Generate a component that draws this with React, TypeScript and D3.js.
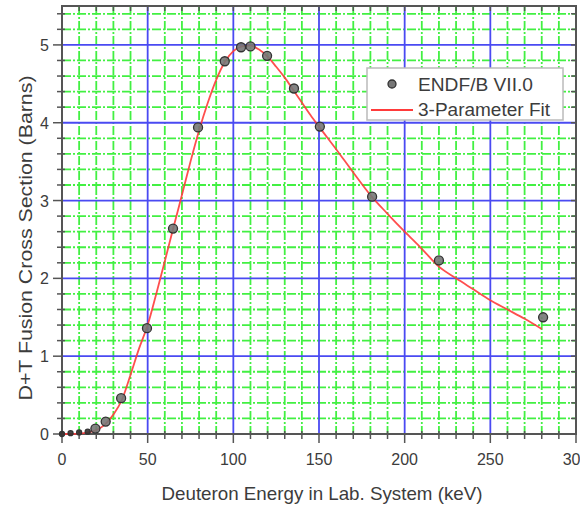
import React, { useEffect, useRef } from 'react';
import { select, scaleLinear, line, range, curveMonotoneX } from 'd3';

// ENDF/B VII.0 evaluated points (keV, barns)
const endfEnergy = [0, 5, 10, 15, 19.5, 25.5, 34.5, 49.6, 64.8, 79.4, 95, 104.5, 110, 119.7, 135.4, 150.5, 181, 220, 280.8];
const endfSigma = [0.0, 0.01, 0.02, 0.03, 0.07, 0.16, 0.46, 1.36, 2.64, 3.94, 4.79, 4.97, 4.98, 4.86, 4.44, 3.95, 3.05, 2.23, 1.5];

// 3-parameter fit curve
const fitEnergy = [0, 5, 10, 15, 20, 25, 30, 35, 40, 45, 50, 55, 60, 65, 70, 75, 80, 85, 90, 95, 100, 105, 110, 115, 120, 125, 130, 135, 140, 145, 150, 160, 170, 180, 190, 200, 210, 220, 230, 240, 250, 260, 270, 280];
const fitSigma = [0, 0, 0.005, 0.02, 0.05, 0.12, 0.25, 0.44, 0.76, 1.1, 1.4, 1.8, 2.22, 2.65, 3.07, 3.5, 3.9, 4.25, 4.55, 4.78, 4.92, 4.98, 4.99, 4.94, 4.85, 4.72, 4.58, 4.42, 4.26, 4.1, 3.95, 3.66, 3.36, 3.07, 2.83, 2.6, 2.38, 2.15, 2.0, 1.86, 1.72, 1.6, 1.48, 1.35];

const xTicks = [0, 50, 100, 150, 200, 250, 300];
const yTicks = [0, 1, 2, 3, 4, 5];

const legendLabels = ['ENDF/B VII.0', '3-Parameter Fit'];

const xTitle = 'Deuteron Energy in Lab. System (keV)';
const yTitle = 'D+T Fusion Cross Section (Barns)';

export default function App() {
  const ref = useRef<SVGSVGElement>(null);

  useEffect(() => {
    const width = 580;
    const height = 505;
    const left = 62, right = 576, top = 6, bottom = 434;
    const font = 'Liberation Sans, Arial, sans-serif';
    const textColor = '#3c3c3c';
    const axisColor = '#555';
    const green = '#22ee22';

    const svg = select(ref.current);
    svg.selectAll('*').remove();
    svg.attr('width', width).attr('height', height);

    svg.append('rect').attr('width', width).attr('height', height).attr('fill', '#fff');

    const x = scaleLinear().domain([0, 300]).range([left, right]);
    const y = scaleLinear().domain([0, 5.5]).range([bottom, top]);

    const xMinor = range(10, 300, 10).filter(v => v % 50 !== 0);
    const yMinor = range(1, 28).map(i => i / 5).filter(v => Math.abs(v - Math.round(v)) > 1e-6);

    // minor grid (green, dash-dot)
    const grid = svg.append('g').attr('opacity', 0.85);
    grid.selectAll('line.mx').data(xMinor).enter().append('line')
      .attr('x1', d => x(d)).attr('x2', d => x(d))
      .attr('y1', top).attr('y2', bottom)
      .attr('stroke', green).attr('stroke-width', 1.8)
      .attr('stroke-dasharray', '9,2,2,2');
    grid.selectAll('line.my').data(yMinor).enter().append('line')
      .attr('y1', d => y(d)).attr('y2', d => y(d))
      .attr('x1', left).attr('x2', right)
      .attr('stroke', green).attr('stroke-width', 1.8)
      .attr('stroke-dasharray', '9,2,2,2');

    // major grid (blue)
    const major = svg.append('g');
    major.selectAll('line.Mx').data(xTicks.filter(v => v > 0 && v < 300)).enter().append('line')
      .attr('x1', d => x(d)).attr('x2', d => x(d))
      .attr('y1', top).attr('y2', bottom)
      .attr('stroke', '#4a4af2').attr('stroke-width', 1.8);
    major.selectAll('line.My').data(yTicks.filter(v => v > 0)).enter().append('line')
      .attr('y1', d => y(d)).attr('y2', d => y(d))
      .attr('x1', left).attr('x2', right)
      .attr('stroke', '#4a4af2').attr('stroke-width', 1.8);

    // frame
    svg.append('rect')
      .attr('x', left).attr('y', top)
      .attr('width', right - left).attr('height', bottom - top)
      .attr('fill', 'none').attr('stroke', axisColor).attr('stroke-width', 2);

    const ticks = svg.append('g').attr('stroke', axisColor).attr('stroke-width', 1.5);
    // bottom axis ticks
    ticks.selectAll('line.bM').data(xTicks).enter().append('line')
      .attr('x1', d => x(d)).attr('x2', d => x(d))
      .attr('y1', bottom).attr('y2', bottom + 9);
    ticks.selectAll('line.bm').data(xMinor).enter().append('line')
      .attr('x1', d => x(d)).attr('x2', d => x(d))
      .attr('y1', bottom - 3).attr('y2', bottom + 5);
    // top ticks
    ticks.selectAll('line.tm').data(xMinor.concat(xTicks)).enter().append('line')
      .attr('x1', d => x(d)).attr('x2', d => x(d))
      .attr('y1', top).attr('y2', top + 5);
    // left axis ticks
    ticks.selectAll('line.lM').data(yTicks).enter().append('line')
      .attr('y1', d => y(d)).attr('y2', d => y(d))
      .attr('x1', left - 9).attr('x2', left);
    ticks.selectAll('line.lm').data(yMinor).enter().append('line')
      .attr('y1', d => y(d)).attr('y2', d => y(d))
      .attr('x1', left - 5).attr('x2', left + 3);
    // right ticks
    ticks.selectAll('line.rm').data(yMinor.concat(yTicks)).enter().append('line')
      .attr('y1', d => y(d)).attr('y2', d => y(d))
      .attr('x1', right - 5).attr('x2', right);

    // tick labels
    svg.append('g').selectAll('text').data(xTicks).enter().append('text')
      .attr('x', d => x(d)).attr('y', bottom + 31)
      .attr('text-anchor', 'middle')
      .attr('font-family', font).attr('font-size', 16).attr('fill', textColor)
      .text(d => d);
    svg.append('g').selectAll('text').data(yTicks).enter().append('text')
      .attr('x', left - 13).attr('y', d => y(d) + 6)
      .attr('text-anchor', 'end')
      .attr('font-family', font).attr('font-size', 16).attr('fill', textColor)
      .text(d => d);

    // axis titles
    svg.append('text')
      .attr('x', 322).attr('y', 500)
      .attr('text-anchor', 'middle')
      .attr('font-family', font).attr('font-size', 18.5).attr('fill', textColor)
      .attr('textLength', 321).attr('lengthAdjust', 'spacingAndGlyphs')
      .text(xTitle);
    svg.append('text')
      .attr('transform', `translate(32,238) rotate(-90)`)
      .attr('text-anchor', 'middle')
      .attr('font-family', font).attr('font-size', 18.5).attr('fill', textColor)
      .attr('textLength', 325).attr('lengthAdjust', 'spacingAndGlyphs')
      .text(yTitle);

    // fit curve
    const fit = fitEnergy.map((e, i) => [e, fitSigma[i]] as [number, number]);
    svg.append('path')
      .datum(fit)
      .attr('fill', 'none')
      .attr('stroke', '#ff3b3b')
      .attr('stroke-width', 1.8)
      .attr('opacity', 0.9)
      .attr('d', line<[number, number]>()
        .x(d => x(d[0]))
        .y(d => y(d[1]))
        .curve(curveMonotoneX));

    // data points
    svg.append('g').selectAll('circle').data(endfEnergy).enter().append('circle')
      .attr('cx', d => x(d))
      .attr('cy', (d, i) => y(endfSigma[i]))
      .attr('r', (d, i) => (i < 4 ? 2.5 : 4.5))
      .attr('fill', (d, i) => (i < 4 ? '#333' : '#777'))
      .attr('fill-opacity', 0.9)
      .attr('stroke', '#333')
      .attr('stroke-width', 1.3);

    // legend
    const lg = svg.append('g');
    lg.append('rect')
      .attr('x', 367).attr('y', 68).attr('width', 196).attr('height', 52)
      .attr('fill', '#fff').attr('stroke', '#bbb').attr('stroke-width', 1.5);
    lg.append('circle')
      .attr('cx', 392).attr('cy', 84).attr('r', 4)
      .attr('fill', '#777').attr('stroke', '#333').attr('stroke-width', 1.3);
    lg.append('line')
      .attr('x1', 371).attr('x2', 413).attr('y1', 110).attr('y2', 110)
      .attr('stroke', '#ff3b3b').attr('stroke-width', 1.8);
    lg.selectAll('text').data(legendLabels).enter().append('text')
      .attr('x', 418).attr('y', (d, i) => 91 + i * 25)
      .attr('font-family', font).attr('font-size', 17.5).attr('fill', textColor)
      .attr('textLength', (d, i) => (i === 0 ? 115 : 132))
      .attr('lengthAdjust', 'spacingAndGlyphs')
      .text(d => d);
  }, []);

  return (
    <div style={{ position: 'absolute', left: 0, top: 0 }}>
      <svg ref={ref} />
    </div>
  );
}
